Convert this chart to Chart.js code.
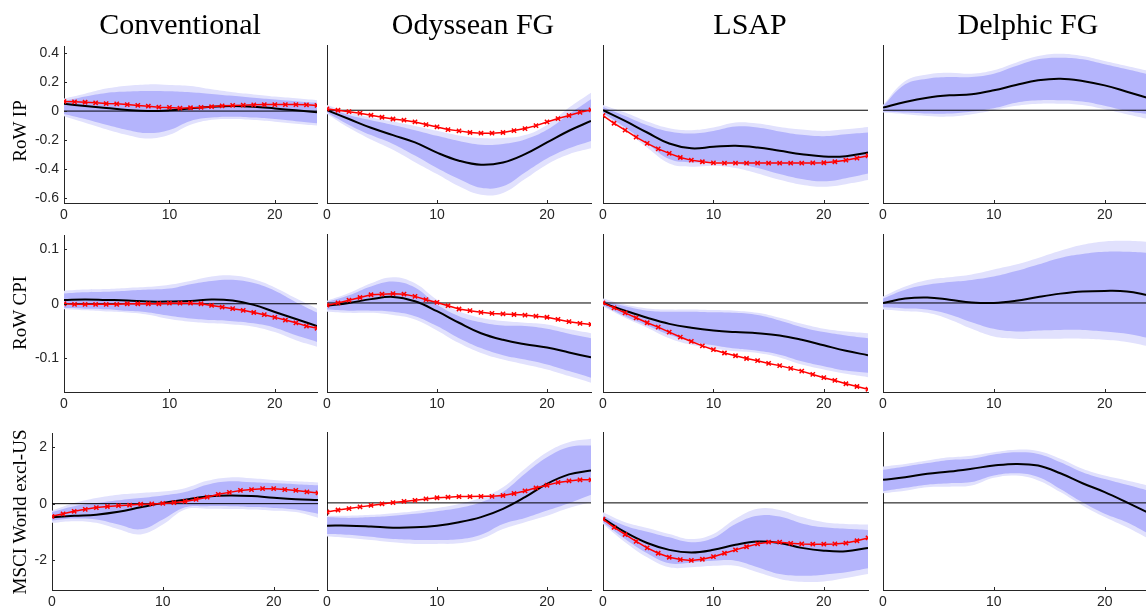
<!DOCTYPE html>
<html>
<head>
<meta charset="utf-8">
<script src="https://cdn.jsdelivr.net/npm/chart.js@4.4.1/dist/chart.umd.min.js"></script>
<style>
  body { margin: 0; width: 1146px; height: 613px; overflow: hidden; background: #fff; position: relative; }
  canvas { position: absolute; }
  .title { position: absolute; font-family: 'Liberation Serif', 'Times New Roman', serif; font-size: 30px; line-height: 30px; white-space: nowrap; transform: translateX(-50%); color: #000; z-index: 5; }
  .ylab { position: absolute; font-family: 'Liberation Serif', 'Times New Roman', serif; font-size: 19px; line-height: 19px; white-space: nowrap; transform: translate(-50%, -50%) rotate(-90deg); color: #000; z-index: 5; }
</style>
</head>
<body>
<script>
// горизонти
const hBand = [0, 2, 4, 6, 8, 10, 12, 14, 16, 18, 20, 22, 24];
const hRed = [0, 1, 2, 3, 4, 5, 6, 7, 8, 9, 10, 11, 12, 13, 14, 15, 16, 17, 18, 19, 20, 21, 22, 23, 24];

const colTitles = ['Conventional', 'Odyssean FG', 'LSAP', 'Delphic FG'];
const rowLabels = ['RoW IP', 'RoW CPI', 'MSCI World excl-US'];

// RoW IP
const ipConvOutHi = [0.086, 0.12, 0.155, 0.175, 0.184, 0.18, 0.173, 0.15, 0.13, 0.115, 0.1, 0.088, 0.075];
const ipConvInHi = [0.068, 0.1, 0.125, 0.135, 0.139, 0.137, 0.13, 0.118, 0.105, 0.092, 0.08, 0.068, 0.057];
const ipConvInLo = [-0.02, -0.055, -0.095, -0.13, -0.152, -0.13, -0.068, -0.045, -0.039, -0.045, -0.055, -0.07, -0.084];
const ipConvOutLo = [-0.035, -0.08, -0.125, -0.165, -0.19, -0.164, -0.095, -0.06, -0.055, -0.062, -0.073, -0.087, -0.1];
const ipConvMed = [0.05, 0.035, 0.022, 0.008, 0.0, 0.005, 0.018, 0.03, 0.035, 0.03, 0.018, 0.005, -0.009];
const ipConvRed = [0.066, 0.064, 0.061, 0.057, 0.052, 0.05, 0.045, 0.039, 0.034, 0.027, 0.025, 0.02, 0.023, 0.025, 0.03, 0.036, 0.039, 0.041, 0.043, 0.045, 0.045, 0.045, 0.045, 0.043, 0.039];

const ipOdyOutHi = [0.036, -0.016, -0.05, -0.077, -0.107, -0.14, -0.172, -0.19, -0.19, -0.17, -0.1, 0.018, 0.12];
const ipOdyInHi = [0.023, -0.032, -0.068, -0.1, -0.136, -0.175, -0.21, -0.235, -0.23, -0.2, -0.134, -0.027, 0.075];
const ipOdyInLo = [-0.015, -0.1, -0.17, -0.23, -0.31, -0.395, -0.47, -0.53, -0.52, -0.425, -0.33, -0.26, -0.21];
const ipOdyOutLo = [-0.025, -0.12, -0.2, -0.27, -0.355, -0.436, -0.52, -0.577, -0.565, -0.47, -0.37, -0.3, -0.26];
const ipOdyMed = [0, -0.06, -0.12, -0.17, -0.22, -0.29, -0.345, -0.373, -0.357, -0.3, -0.22, -0.14, -0.073];
const ipOdyRed = [0.009, 0, -0.01, -0.02, -0.034, -0.048, -0.06, -0.068, -0.08, -0.098, -0.114, -0.132, -0.141, -0.152, -0.157, -0.157, -0.152, -0.139, -0.125, -0.105, -0.08, -0.057, -0.036, -0.014, 0.002];

const ipLsapOutHi = [0.036, -0.016, -0.077, -0.123, -0.136, -0.118, -0.084, -0.091, -0.114, -0.132, -0.141, -0.13, -0.114];
const ipLsapInHi = [0.023, -0.039, -0.102, -0.145, -0.159, -0.141, -0.111, -0.118, -0.145, -0.168, -0.177, -0.164, -0.152];
const ipLsapInLo = [-0.018, -0.118, -0.227, -0.334, -0.357, -0.35, -0.364, -0.395, -0.436, -0.47, -0.486, -0.464, -0.432];
const ipLsapOutLo = [-0.027, -0.136, -0.255, -0.364, -0.386, -0.38, -0.395, -0.432, -0.475, -0.509, -0.523, -0.505, -0.477];
const ipLsapMed = [0, -0.073, -0.152, -0.227, -0.26, -0.25, -0.243, -0.255, -0.277, -0.3, -0.316, -0.314, -0.289];
const ipLsapRed = [-0.036, -0.089, -0.136, -0.184, -0.227, -0.264, -0.295, -0.323, -0.341, -0.352, -0.36, -0.361, -0.361, -0.361, -0.361, -0.361, -0.361, -0.361, -0.361, -0.36, -0.359, -0.352, -0.341, -0.327, -0.311];

const ipDelOutHi = [0.036, 0.2, 0.245, 0.257, 0.25, 0.273, 0.325, 0.37, 0.386, 0.37, 0.336, 0.302, 0.268];
const ipDelInHi = [0.027, 0.177, 0.216, 0.227, 0.227, 0.25, 0.302, 0.348, 0.359, 0.348, 0.314, 0.28, 0.245];
const ipDelInLo = [-0.009, -0.016, -0.023, -0.023, -0.009, 0.014, 0.052, 0.068, 0.068, 0.059, 0.03, -0.005, -0.027];
const ipDelOutLo = [-0.016, -0.027, -0.039, -0.043, -0.027, 0, 0.03, 0.045, 0.045, 0.036, 0.007, -0.027, -0.061];
const ipDelMed = [0.018, 0.057, 0.086, 0.102, 0.109, 0.136, 0.173, 0.205, 0.216, 0.2, 0.17, 0.127, 0.082];

// RoW CPI
const cpiConvOutHi = [0.024, 0.026, 0.027, 0.029, 0.031, 0.035, 0.042, 0.05, 0.052, 0.045, 0.03, 0.01, -0.009];
const cpiConvInHi = [0.019, 0.021, 0.022, 0.024, 0.026, 0.028, 0.036, 0.042, 0.044, 0.038, 0.024, 0.003, -0.016];
const cpiConvInLo = [-0.008, -0.009, -0.01, -0.013, -0.016, -0.022, -0.027, -0.03, -0.032, -0.036, -0.044, -0.058, -0.07];
const cpiConvOutLo = [-0.01, -0.012, -0.014, -0.016, -0.02, -0.028, -0.033, -0.036, -0.038, -0.042, -0.052, -0.067, -0.079];
const cpiConvMed = [0.007, 0.008, 0.007, 0.006, 0.004, 0.004, 0.005, 0.008, 0.006, -0.002, -0.015, -0.028, -0.041];
const cpiConvRed = [0, -0.001, -0.001, -0.001, -0.001, -0.001, 0, 0, 0, 0, 0.001, 0.001, 0.001, 0, -0.003, -0.006, -0.009, -0.012, -0.016, -0.02, -0.025, -0.03, -0.035, -0.041, -0.045];

const cpiOdyOutHi = [0.004, 0.018, 0.036, 0.047, 0.036, 0.006, -0.015, -0.027, -0.033, -0.036, -0.039, -0.048, -0.055];
const cpiOdyInHi = [0.002, 0.014, 0.03, 0.039, 0.028, -0.003, -0.024, -0.035, -0.041, -0.042, -0.047, -0.056, -0.064];
const cpiOdyInLo = [-0.012, -0.014, -0.014, -0.016, -0.024, -0.042, -0.064, -0.082, -0.095, -0.103, -0.112, -0.124, -0.136];
const cpiOdyOutLo = [-0.016, -0.018, -0.018, -0.022, -0.03, -0.05, -0.073, -0.091, -0.103, -0.112, -0.121, -0.133, -0.145];
const cpiOdyMed = [-0.005, 0, 0.007, 0.011, 0.003, -0.015, -0.036, -0.055, -0.067, -0.075, -0.081, -0.09, -0.099];
const cpiOdyRed = [-0.004, 0, 0.005, 0.01, 0.015, 0.016, 0.017, 0.016, 0.012, 0.006, 0.001, -0.005, -0.011, -0.014, -0.017, -0.019, -0.02, -0.021, -0.022, -0.024, -0.026, -0.03, -0.034, -0.037, -0.039];

const cpiLsapOutHi = [0.008, -0.003, -0.01, -0.012, -0.012, -0.013, -0.014, -0.018, -0.027, -0.038, -0.047, -0.052, -0.055];
const cpiLsapInHi = [0.004, -0.006, -0.014, -0.016, -0.016, -0.017, -0.018, -0.022, -0.032, -0.044, -0.053, -0.059, -0.064];
const cpiLsapInLo = [-0.004, -0.024, -0.041, -0.058, -0.07, -0.077, -0.083, -0.087, -0.094, -0.106, -0.115, -0.123, -0.127];
const cpiLsapOutLo = [-0.006, -0.027, -0.045, -0.064, -0.076, -0.083, -0.088, -0.091, -0.099, -0.112, -0.121, -0.129, -0.135];
const cpiLsapMed = [0, -0.014, -0.027, -0.038, -0.045, -0.05, -0.053, -0.055, -0.059, -0.067, -0.077, -0.087, -0.095];
const cpiLsapRed = [0, -0.009, -0.018, -0.027, -0.036, -0.044, -0.053, -0.062, -0.07, -0.078, -0.085, -0.091, -0.096, -0.101, -0.105, -0.11, -0.114, -0.119, -0.124, -0.13, -0.136, -0.141, -0.147, -0.152, -0.157];

const cpiDelOutHi = [0.012, 0.03, 0.042, 0.047, 0.052, 0.061, 0.07, 0.082, 0.095, 0.106, 0.112, 0.113, 0.111];
const cpiDelInHi = [0.008, 0.024, 0.033, 0.038, 0.042, 0.048, 0.058, 0.07, 0.082, 0.089, 0.093, 0.093, 0.091];
const cpiDelInLo = [-0.008, -0.01, -0.012, -0.021, -0.035, -0.047, -0.052, -0.05, -0.049, -0.049, -0.052, -0.056, -0.064];
const cpiDelOutLo = [-0.012, -0.015, -0.018, -0.03, -0.047, -0.061, -0.065, -0.065, -0.065, -0.065, -0.067, -0.071, -0.079];
const cpiDelMed = [0, 0.008, 0.01, 0.006, 0.001, 0, 0.004, 0.011, 0.017, 0.021, 0.022, 0.021, 0.014];

// MSCI World excl-US
const mscConvOutHi = [-0.25, 0.02, 0.2, 0.32, 0.38, 0.43, 0.55, 0.81, 0.93, 0.9, 0.84, 0.79, 0.75];
const mscConvInHi = [-0.3, -0.09, 0.02, 0.12, 0.2, 0.29, 0.41, 0.67, 0.79, 0.76, 0.73, 0.69, 0.65];
const mscConvInLo = [-0.6, -0.53, -0.56, -0.74, -0.91, -0.56, -0.13, -0.09, -0.09, -0.12, -0.15, -0.21, -0.36];
const mscConvOutLo = [-0.68, -0.62, -0.68, -0.91, -1.09, -0.74, -0.21, -0.18, -0.19, -0.21, -0.25, -0.3, -0.5];
const mscConvMed = [-0.48, -0.43, -0.39, -0.29, -0.13, 0.02, 0.14, 0.25, 0.29, 0.27, 0.21, 0.16, 0.13];
const mscConvRed = [-0.45, -0.36, -0.27, -0.2, -0.14, -0.1, -0.07, -0.05, -0.02, -0.01, 0.01, 0.035, 0.08, 0.15, 0.23, 0.33, 0.4, 0.47, 0.5, 0.53, 0.53, 0.5, 0.47, 0.42, 0.38];

const mscOdyOutHi = [-0.45, -0.45, -0.42, -0.36, -0.29, -0.18, -0.04, 0.18, 0.55, 1.2, 1.78, 2.13, 2.25];
const mscOdyInHi = [-0.5, -0.53, -0.5, -0.45, -0.38, -0.29, -0.18, 0.02, 0.38, 1.02, 1.6, 1.96, 2.02];
const mscOdyInLo = [-1.09, -1.12, -1.19, -1.27, -1.3, -1.3, -1.28, -1.12, -0.74, -0.53, -0.27, -0.01, 0.29];
const mscOdyOutLo = [-1.18, -1.23, -1.3, -1.38, -1.44, -1.44, -1.42, -1.27, -0.92, -0.68, -0.45, -0.18, 0.02];
const mscOdyMed = [-0.8, -0.8, -0.83, -0.87, -0.86, -0.8, -0.68, -0.5, -0.21, 0.2, 0.67, 1.0, 1.14];
const mscOdyRed = [-0.32, -0.25, -0.2, -0.14, -0.09, -0.035, 0.01, 0.05, 0.09, 0.14, 0.18, 0.2, 0.22, 0.22, 0.23, 0.23, 0.26, 0.33, 0.42, 0.53, 0.62, 0.72, 0.77, 0.81, 0.81];

const mscLsapOutHi = [-0.33, -0.68, -0.88, -1.09, -1.27, -1.09, -0.56, -0.21, -0.25, -0.5, -0.68, -0.74, -0.76];
const mscLsapInHi = [-0.45, -0.8, -1.01, -1.21, -1.38, -1.23, -0.74, -0.45, -0.48, -0.72, -0.86, -0.91, -0.95];
const mscLsapInLo = [-0.68, -1.27, -1.77, -2.12, -2.09, -2.03, -2.03, -2.26, -2.5, -2.56, -2.52, -2.44, -2.3];
const mscLsapOutLo = [-0.74, -1.38, -1.91, -2.26, -2.26, -2.21, -2.21, -2.44, -2.67, -2.77, -2.76, -2.64, -2.5];
const mscLsapMed = [-0.54, -1.03, -1.41, -1.65, -1.74, -1.65, -1.47, -1.36, -1.41, -1.58, -1.68, -1.7, -1.58];
const mscLsapRed = [-0.57, -0.86, -1.11, -1.35, -1.58, -1.77, -1.91, -1.99, -2.02, -1.98, -1.89, -1.77, -1.65, -1.54, -1.44, -1.38, -1.38, -1.42, -1.44, -1.45, -1.45, -1.44, -1.41, -1.33, -1.23];

const mscDelOutHi = [1.28, 1.37, 1.49, 1.6, 1.66, 1.78, 1.87, 1.82, 1.55, 1.2, 0.96, 0.79, 0.61];
const mscDelInHi = [1.16, 1.28, 1.4, 1.51, 1.55, 1.7, 1.78, 1.72, 1.43, 1.08, 0.84, 0.64, 0.43];
const mscDelInLo = [0.41, 0.53, 0.64, 0.69, 0.73, 0.96, 1.04, 0.91, 0.49, 0.02, -0.38, -0.68, -1.09];
const mscDelOutLo = [0.34, 0.43, 0.55, 0.57, 0.61, 0.88, 0.96, 0.79, 0.38, -0.09, -0.5, -0.86, -1.27];
const mscDelMed = [0.81, 0.9, 1.02, 1.1, 1.2, 1.31, 1.37, 1.31, 1.04, 0.69, 0.38, 0.02, -0.36];

// межі осей по рядках
const rowYMin = [-0.634, -0.162, -3.06];
const rowYMax = [0.446, 0.1255, 2.49];
const rowYStep = [0.2, 0.1, 2];

// розміщення панелей (пікселі)
const rowTop = [45, 234, 432];
const rowHeight = [158, 158, 158];
const colLeft = [[64, 64, 52], 327, 603, 883];
const colWidth = [[253, 253, 266], 264, 265, 266];
const titleX = [180, 473, 750, 1028];
const labelY = [131, 313, 512];

const OUTER = 'rgb(225, 225, 253)';
const INNER = 'rgb(180, 180, 252)';
const AXIS = '#262626';
const PAD_L = 40, PAD_T = 12, PAD_R = 6, PAD_B = 24;

const panels = [
  [ipConvOutHi, ipConvInHi, ipConvInLo, ipConvOutLo, ipConvMed, ipConvRed],
  [ipOdyOutHi, ipOdyInHi, ipOdyInLo, ipOdyOutLo, ipOdyMed, ipOdyRed],
  [ipLsapOutHi, ipLsapInHi, ipLsapInLo, ipLsapOutLo, ipLsapMed, ipLsapRed],
  [ipDelOutHi, ipDelInHi, ipDelInLo, ipDelOutLo, ipDelMed, null],
  [cpiConvOutHi, cpiConvInHi, cpiConvInLo, cpiConvOutLo, cpiConvMed, cpiConvRed],
  [cpiOdyOutHi, cpiOdyInHi, cpiOdyInLo, cpiOdyOutLo, cpiOdyMed, cpiOdyRed],
  [cpiLsapOutHi, cpiLsapInHi, cpiLsapInLo, cpiLsapOutLo, cpiLsapMed, cpiLsapRed],
  [cpiDelOutHi, cpiDelInHi, cpiDelInLo, cpiDelOutLo, cpiDelMed, null],
  [mscConvOutHi, mscConvInHi, mscConvInLo, mscConvOutLo, mscConvMed, mscConvRed],
  [mscOdyOutHi, mscOdyInHi, mscOdyInLo, mscOdyOutLo, mscOdyMed, mscOdyRed],
  [mscLsapOutHi, mscLsapInHi, mscLsapInLo, mscLsapOutLo, mscLsapMed, mscLsapRed],
  [mscDelOutHi, mscDelInHi, mscDelInLo, mscDelOutLo, mscDelMed, null]
];

function pts(xs, ys) {
  return xs.map((x, i) => ({ x: x, y: ys[i] }));
}

// Маленькі риски всередину, як у MATLAB
const innerTicks = {
  id: 'innerTicks',
  afterDraw(chart, args, opts) {
    const ctx = chart.ctx;
    const a = chart.chartArea;
    ctx.save();
    ctx.strokeStyle = AXIS;
    ctx.lineWidth = 1;
    ctx.beginPath();
    chart.scales.x.ticks.forEach(t => {
      const px = Math.round(chart.scales.x.getPixelForValue(t.value)) + 0.5;
      ctx.moveTo(px, a.bottom);
      ctx.lineTo(px, a.bottom - 3);
    });
    if (opts.yTicks) {
      chart.scales.y.ticks.forEach(t => {
        const py = Math.round(chart.scales.y.getPixelForValue(t.value)) + 0.5;
        ctx.moveTo(a.left, py);
        ctx.lineTo(a.left + 3, py);
      });
    }
    ctx.stroke();
    ctx.restore();
  }
};

const tickFont = { family: "'Liberation Sans', Arial, sans-serif", size: 14 };

function bandSet(data, color, fill, order) {
  return {
    data: pts(hBand, data),
    borderWidth: 0,
    borderColor: 'rgba(0,0,0,0)',
    backgroundColor: color,
    fill: fill,
    pointRadius: 0,
    tension: 0.4,
    order: order
  };
}

function addPanel(row, col) {
  const [outHi, inHi, inLo, outLo, med, red] = panels[row * 4 + col];
  const left = col === 0 ? colLeft[0][row] : colLeft[col];
  const w = col === 0 ? colWidth[0][row] : colWidth[col];
  const h = rowHeight[row];
  const cw = PAD_L + w + PAD_R;
  const ch = PAD_T + h + PAD_B;

  const cv = document.createElement('canvas');
  cv.width = cw;
  cv.height = ch;
  cv.style.width = cw + 'px';
  cv.style.height = ch + 'px';
  cv.style.left = (left - PAD_L) + 'px';
  cv.style.top = (rowTop[row] - PAD_T) + 'px';
  document.body.appendChild(cv);

  const datasets = [
    bandSet(outHi, OUTER, '+1', 6),
    bandSet(outLo, OUTER, false, 5),
    bandSet(inHi, INNER, '+1', 4),
    bandSet(inLo, INNER, false, 3),
    {
      data: [{ x: 0, y: 0 }, { x: 24, y: 0 }],
      borderColor: '#000',
      borderWidth: 1,
      pointRadius: 0,
      fill: false,
      order: 2
    },
    {
      data: pts(hBand, med),
      borderColor: '#000',
      borderWidth: 2,
      pointRadius: 0,
      tension: 0.4,
      fill: false,
      order: 1
    }
  ];
  if (red) {
    datasets.push({
      data: pts(hRed, red),
      borderColor: '#ff0000',
      borderWidth: 1.5,
      pointStyle: 'crossRot',
      pointRadius: 3,
      pointBorderWidth: 1.5,
      pointBorderColor: '#ff0000',
      pointBackgroundColor: '#ff0000',
      tension: 0,
      fill: false,
      order: 0
    });
  }

  new Chart(cv, {
    type: 'line',
    data: { datasets: datasets },
    plugins: [innerTicks],
    options: {
      responsive: false,
      animation: false,
      devicePixelRatio: 1,
      events: [],
      layout: { padding: { top: PAD_T, right: PAD_R, left: 0, bottom: 0 } },
      plugins: {
        legend: { display: false },
        tooltip: { enabled: false },
        innerTicks: { yTicks: col === 0 }
      },
      scales: {
        x: {
          type: 'linear',
          min: 0,
          max: 24,
          grid: { display: false, drawTicks: false },
          border: { display: true, color: AXIS, width: 1 },
          ticks: {
            stepSize: 10,
            includeBounds: false,
            autoSkip: false,
            maxRotation: 0,
            padding: 4,
            color: AXIS,
            font: tickFont
          },
          afterFit(scale) { scale.height = PAD_B; }
        },
        y: {
          type: 'linear',
          min: rowYMin[row],
          max: rowYMax[row],
          grid: { display: false, drawTicks: false },
          border: { display: true, color: AXIS, width: 1 },
          ticks: {
            display: col === 0,
            stepSize: rowYStep[row],
            includeBounds: false,
            padding: 5,
            color: AXIS,
            font: tickFont
          },
          afterFit(scale) { scale.width = PAD_L; }
        }
      }
    }
  });
}

for (let r = 0; r < 3; r++) {
  for (let c = 0; c < 4; c++) addPanel(r, c);
}

// Заголовки колонок і підписи рядків
colTitles.forEach((t, i) => {
  const d = document.createElement('div');
  d.className = 'title';
  d.textContent = t;
  d.style.left = titleX[i] + 'px';
  d.style.top = '9px';
  document.body.appendChild(d);
});
rowLabels.forEach((t, i) => {
  const d = document.createElement('div');
  d.className = 'ylab';
  d.textContent = t;
  d.style.left = '19px';
  d.style.top = labelY[i] + 'px';
  document.body.appendChild(d);
});
</script>
</body>
</html>
